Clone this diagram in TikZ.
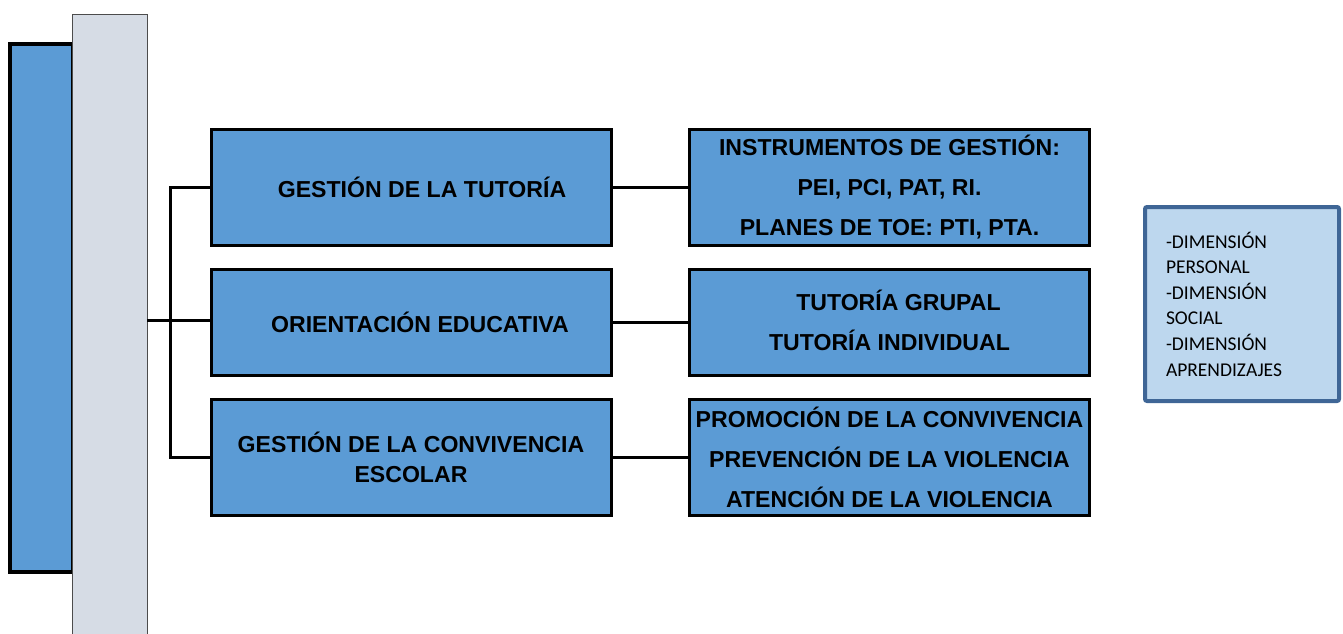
\documentclass[tikz,border=0pt]{standalone}
\usepackage{fontspec}
\setmainfont{Liberation Sans}
\newfontfamily\dimfont{Carlito}
\usetikzlibrary{positioning}

\definecolor{boxblue}{HTML}{5B9BD5}
\definecolor{bargray}{HTML}{D6DCE5}
\definecolor{dimfill}{HTML}{BDD7EE}
\definecolor{dimline}{HTML}{3F6696}

\begin{document}
\begin{tikzpicture}[x=1pt, y=-1pt,
    block/.style={draw, line width=3pt, fill=boxblue, minimum width=400pt,
        align=center, font=\bfseries\fontsize{23.1}{40}\selectfont, inner sep=0pt},
    conn/.style={line width=3pt}]

    \useasboundingbox (0,0) rectangle (1343,634);

    % side bars
    \draw[line width=4pt, fill=boxblue] (10,44) rectangle (73,572);
    \node [draw=black!70, line width=0.8pt, fill=bargray, minimum width=75pt,
        minimum height=630pt, inner sep=0pt] (bar) at (109.5,329) {};

    % middle column
    \node [block, minimum height=116pt] (tut) at (411,187) {\hspace*{22pt}GESTIÓN DE LA TUTORÍA};
    \node [block, minimum height=106pt] (ori) at (411,322)
        {\raisebox{-5pt}{\hspace*{18pt}ORIENTACIÓN EDUCATIVA}};
    \node [block, minimum height=116pt, font=\bfseries\fontsize{23.1}{30}\selectfont] (con) at (411,457)
        {GESTIÓN DE LA CONVIVENCIA\\ESCOLAR};

    % right column
    \node [block, minimum height=116pt] (inst) at (889.5,187)
        {INSTRUMENTOS DE GESTIÓN:\\PEI, PCI, PAT, RI.\\PLANES DE TOE: PTI, PTA.};
    \node [block, minimum height=106pt] (grp) at (889.5,322)
        {\raisebox{-5pt}{\begin{tabular}{@{}c@{}}\hspace*{18pt}TUTORÍA GRUPAL\\TUTORÍA INDIVIDUAL\end{tabular}}};
    \node [block, minimum height=116pt] (viol) at (889.5,457)
        {PROMOCIÓN DE LA CONVIVENCIA\\PREVENCIÓN DE LA VIOLENCIA\\ATENCIÓN DE LA VIOLENCIA};

    % dimensions
    \node [draw=dimline, line width=4pt, rounded corners=2pt, fill=dimfill,
        minimum width=194pt, minimum height=194pt, text width=152pt, align=left,
        font=\dimfont\fontsize{19.5}{25.6}\selectfont] (dim) at (1242,304)
        {-DIMENSIÓN\\PERSONAL\\-DIMENSIÓN\\SOCIAL\\-DIMENSIÓN\\APRENDIZAJES};

    % connectors
    \draw[conn] (bar.east |- 0,320) -- (ori.west |- 0,320);
    \draw[conn] (tut.west) -- ++(-39,0) |- (con.west);
    \draw[conn] (tut.east) -- (inst.west);
    \draw[conn] (ori.east) -- (grp.west);
    \draw[conn] (con.east) -- (viol.west);
\end{tikzpicture}
\end{document}
